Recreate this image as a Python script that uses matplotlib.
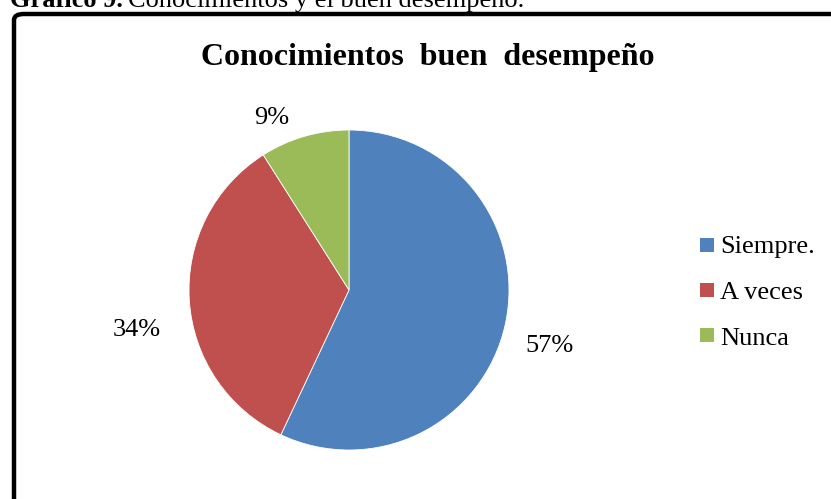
import numpy as np
import matplotlib
matplotlib.use('Agg')
import matplotlib.pyplot as plt
from matplotlib.patches import FancyBboxPatch, Rectangle

categorias = ['Siempre.', 'A veces', 'Nunca']
porcentajes = [57, 34, 9]
colores = ['#4F81BD', '#C0504D', '#9BBB59']

W, H = 831, 499
plt.rcParams['font.family'] = ['Liberation Serif', 'DejaVu Serif']

fig = plt.figure(figsize=(W / 100, H / 100), dpi=100)

# caption (cut at the top edge)
cap_b = fig.text(10 / W, 1 - 7 / H, 'Gráfico 9.', fontsize=19, fontweight='bold',
                 va='baseline', ha='left')
fig.canvas.draw()
bb = cap_b.get_window_extent()
fig.text(bb.x1 / W + 5 / W, 1 - 7 / H, 'Conocimientos y el buen desempeño.', fontsize=19,
         va='baseline', ha='left')

# chart frame
frame = FancyBboxPatch((14 / W, -0.2), 1.2, (1 - 14 / H) + 0.2,
                       boxstyle='round,pad=0,rounding_size=0.012',
                       transform=fig.transFigure, fill=False, edgecolor='black',
                       linewidth=3.2, clip_on=False)
fig.patches.append(frame)

fig.text(428 / W, 1 - 65 / H, 'Conocimientos  buen  desempeño', fontsize=23,
         fontweight='bold', ha='center', va='baseline')

# pie
cx, cy, r = 349, 290, 160
ax = fig.add_axes([(cx - r) / W, (H - cy - r) / H, 2 * r / W, 2 * r / H])
wedges, _ = ax.pie(porcentajes, colors=colores, startangle=90, counterclock=False,
                   radius=1, wedgeprops=dict(linewidth=0.6, edgecolor='white'))
ax.set_xlim(-1, 1)
ax.set_ylim(-1, 1)
ax.set_aspect('equal')

dist = [1.30, 1.35, 1.18]
dang = [-3, 7, 8]
for w, p, d, da in zip(wedges, porcentajes, dist, dang):
    a = np.deg2rad((w.theta1 + w.theta2) / 2 + da)
    ax.text(d * np.cos(a), d * np.sin(a), f'{p}%', fontsize=19, ha='center',
            va='center', clip_on=False)

# legend
leg_sq = [245, 289.5, 334.5]
leg_base = [253, 299, 345]
for cat, col, ys, yb in zip(categorias, colores, leg_sq, leg_base):
    fig.patches.append(Rectangle((700 / W, (H - ys - 7) / H), 14 / W, 14 / H,
                                 transform=fig.transFigure, facecolor=col,
                                 edgecolor='none'))
    fig.text(720 / W, (H - yb) / H, cat, fontsize=19, va='baseline', ha='left')

plt.savefig('out.png', dpi=100)
